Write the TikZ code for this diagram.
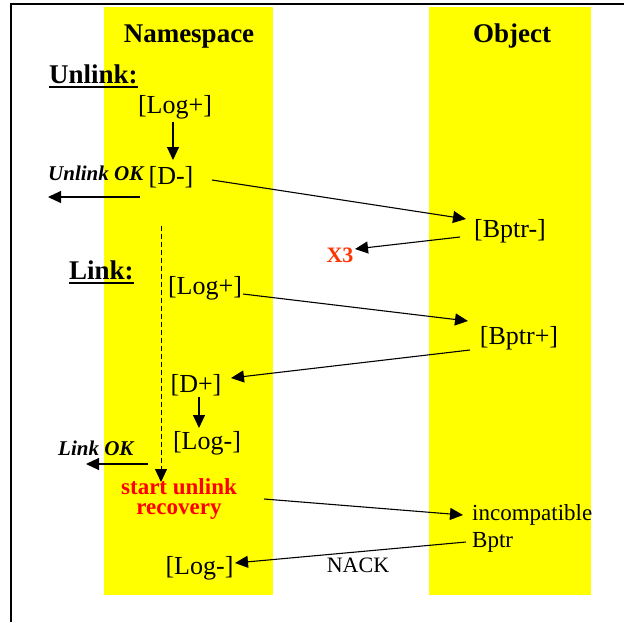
\documentclass[tikz,border=0pt]{standalone}
\usepackage{fontspec}
\setmainfont{Liberation Serif}
\usetikzlibrary{arrows.meta}
\definecolor{lane}{HTML}{FFFF00}
\definecolor{alert}{HTML}{FF0000}
\definecolor{xmark}{HTML}{FF3300}
\tikzset{
  lanebox/.style={fill=lane, draw=none},
  hdr/.style={font=\fontsize{27}{32}\selectfont\bfseries, inner sep=0pt, anchor=base},
  state/.style={font=\fontsize{26}{31}\selectfont, inner sep=0pt, anchor=base},
  okmsg/.style={font=\fontsize{21}{25}\selectfont\bfseries\itshape, inner sep=0pt, anchor=base west},
  redmsg/.style={font=\fontsize{23}{20}\selectfont\bfseries, text=alert, inner sep=0pt, align=center},
  small/.style={font=\fontsize{23}{27}\selectfont, inner sep=0pt},
  msg/.style={line width=1.1pt, -{Triangle[length=13pt,width=12pt]}},
  frameline/.style={line width=1.4pt},
  uline/.style={line width=2pt}
}
\begin{document}
\begin{tikzpicture}[x=1pt, y=-1pt]
  \useasboundingbox (0,0) rectangle (624,622);
  \fill[white] (0,0) rectangle (624,622);

  % page frame
  \draw[frameline] (624,4) -- (11,4) -- (11,622);

  % swim lanes
  \fill[lanebox] (104,7) rectangle (273,595);
  \fill[lanebox] (429,7) rectangle (591,595);
  \node[hdr] (ns)  at (189,42) {Namespace};
  \node[hdr] (obj) at (512,42) {Object};

  % unlink sequence
  \node[hdr, anchor=base west] (unl) at (49,83) {Unlink:};
  \draw[uline] ([shift={(0,4)}]unl.base west) -- ([shift={(0,4)}]unl.base east);
  \node[state] (logA) at (175,113) {[Log+]};
  \node[state] (dm) at (171,184) {[D-]};
  \node[okmsg] (uok) at (48,180) {Unlink OK};
  \node[state] (bm) at (510,237) {[Bptr-]};
  \node[font=\fontsize{22}{26}\selectfont\bfseries, text=xmark, inner sep=0pt, anchor=base] (x3) at (340,262) {X3};

  \draw[msg] ([shift={(-2,9)}]logA.base) -- ([shift={(2,-24)}]dm.base);
  \draw[msg] ([shift={(92,17)}]uok.base west) -- ([shift={(0,17)}]uok.base west);
  \draw[msg] ([shift={(41,-4)}]dm.base) -- ([shift={(-44,-18)}]bm.base);
  \draw[msg] ([shift={(-50,0)}]bm.base) -- ([shift={(15,-13)}]x3.base);

  % link sequence
  \node[hdr, anchor=base west] (lnk) at (69,279) {Link:};
  \draw[uline] ([shift={(0,4)}]lnk.base west) -- ([shift={(0,4)}]lnk.base east);
  \node[state] (logB) at (205,294) {[Log+]};
  \node[state] (bp) at (519,344) {[Bptr+]};
  \node[state] (dp) at (196,392) {[D+]};
  \node[state] (logC) at (207,449) {[Log-]};
  \node[okmsg] (lok) at (58,455) {Link OK};

  \draw[msg] ([shift={(38,0)}]logB.base) -- ([shift={(-51,-23)}]bp.base);
  \draw[msg] ([shift={(-49,6)}]bp.base) -- ([shift={(35,-14)}]dp.base);
  \draw[msg] ([shift={(3,5)}]dp.base) -- ([shift={(-8,-21)}]logC.base);
  \draw[msg] ([shift={(90,9)}]lok.base west) -- ([shift={(28,9)}]lok.base west);

  % recovery path
  \node[redmsg, anchor=north] (rec) at (179,478) {start unlink\\recovery};
  \draw[line width=1pt, dash pattern=on 5pt off 3pt, -{Triangle[length=13pt,width=12pt]}]
    ([shift={(-10,42)}]dm.base) -- ([shift={(-18,4)}]rec.north);

  \node[small, anchor=base west] (inc1) at (472,520) {incompatible};
  \node[small, anchor=base west] (inc2) at (472,547) {Bptr};
  \node[state] (logD) at (199.5,574) {[Log-]};
  \node[small, font=\fontsize{22}{26}\selectfont, anchor=base] (nack) at (358,572) {NACK};

  \draw[msg] ([shift={(85,21)}]rec.north) -- ([shift={(-9,-5)}]inc1.base west);
  \draw[msg] ([shift={(-6,-5)}]inc2.base west) -- ([shift={(35.5,-11)}]logD.base);
\end{tikzpicture}
\end{document}
